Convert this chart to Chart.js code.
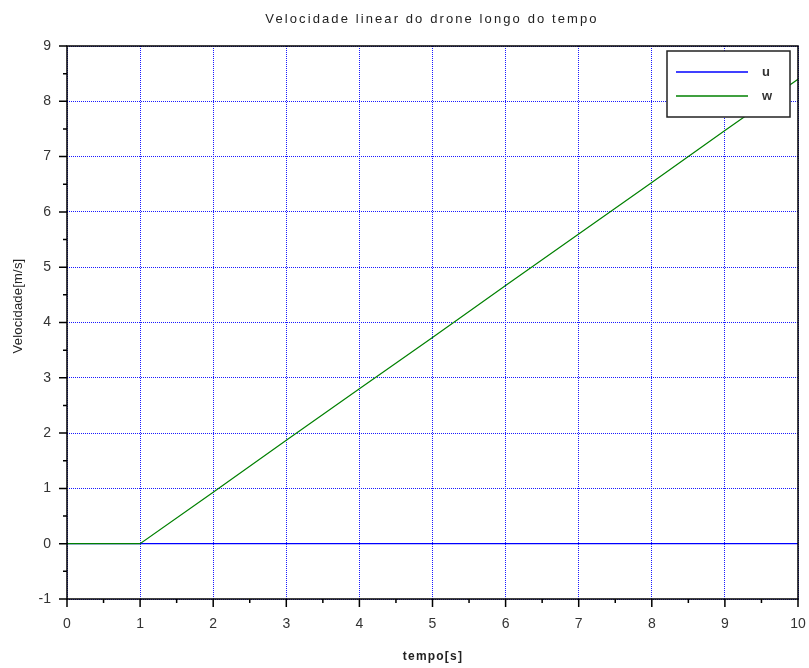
<!DOCTYPE html>
<html>
<head>
<meta charset="utf-8">
<script src="https://cdn.jsdelivr.net/npm/chart.js@4/dist/chart.umd.min.js"></script>
<style>
  html, body { margin: 0; padding: 0; background: #fff; }
  #wrap { width: 809px; height: 668px; }
</style>
</head>
<body>
<div id="wrap"><canvas id="lineChart" width="809" height="668"></canvas></div>
<script>
// time samples (s) and the two velocity series (m/s)
const tempo = [0, 1, 2, 3, 4, 5, 6, 7, 8, 9, 10];
const uValues = [0, 0, 0, 0, 0, 0, 0, 0, 0, 0, 0];
const wValues = [0, 0, 0.93, 1.87, 2.8, 3.73, 4.67, 5.6, 6.53, 7.47, 8.4];
const seriesNames = ["u", "w"];
const seriesColors = ["#0000ff", "#008000"];

const titleText = "Velocidade linear do drone longo do tempo";
const xTitle = "tempo[s]";
const yTitle = "Velocidade[m/s]";

const toPoints = (values) => tempo.map((t, i) => ({ x: t, y: values[i] }));

// frame, minor/major ticks, titles and legend box
const scilabFrame = {
  id: "scilabFrame",
  afterDraw(chart) {
    const { ctx, chartArea: a, scales } = chart;
    const xs = scales.x;
    const ys = scales.y;
    ctx.save();
    ctx.strokeStyle = "#000";
    ctx.lineWidth = 1.5;
    ctx.strokeRect(a.left, a.top, a.right - a.left, a.bottom - a.top);

    ctx.beginPath();
    for (let v = 0; v <= 10; v += 0.5) {
      const px = xs.getPixelForValue(v);
      const len = Number.isInteger(v) ? 8 : 4;
      ctx.moveTo(px, a.bottom);
      ctx.lineTo(px, a.bottom + len);
    }
    for (let v = -1; v <= 9; v += 0.5) {
      const py = ys.getPixelForValue(v);
      const len = Number.isInteger(v) ? 8 : 4;
      ctx.moveTo(a.left, py);
      ctx.lineTo(a.left - len, py);
    }
    ctx.stroke();

    ctx.fillStyle = "#222";
    ctx.textAlign = "center";
    ctx.textBaseline = "middle";
    ctx.font = "13px 'Liberation Sans', sans-serif";
    ctx.letterSpacing = "2.1px";
    ctx.fillText(titleText, 432, 19);

    ctx.font = "bold 12px 'Liberation Sans', sans-serif";
    ctx.letterSpacing = "1.2px";
    ctx.fillText(xTitle, 433, 657);
    ctx.save();
    ctx.translate(18, 306);
    ctx.rotate(-Math.PI / 2);
    ctx.font = "13px 'Liberation Sans', sans-serif";
    ctx.letterSpacing = "0.2px";
    ctx.fillText(yTitle, 0, 0);
    ctx.restore();

    // legend
    const lx = 667, ly = 51, lw = 123, lh = 66;
    ctx.letterSpacing = "0px";
    ctx.fillStyle = "#fff";
    ctx.fillRect(lx, ly, lw, lh);
    ctx.strokeStyle = "#222";
    ctx.lineWidth = 1.5;
    ctx.strokeRect(lx, ly, lw, lh);
    ctx.font = "bold 13px 'Liberation Sans', sans-serif";
    ctx.textAlign = "left";
    seriesNames.forEach((name, i) => {
      const yy = ly + 21 + i * 24;
      ctx.strokeStyle = seriesColors[i];
      ctx.lineWidth = 1.5;
      ctx.beginPath();
      ctx.moveTo(676, yy);
      ctx.lineTo(748, yy);
      ctx.stroke();
      ctx.fillStyle = "#333";
      ctx.fillText(name, 762, yy);
    });
    ctx.restore();
  },
};

const container = document.getElementById("lineChart");

new Chart(container, {
  type: "line",
  data: {
    datasets: [
      {
        label: seriesNames[0],
        data: toPoints(uValues),
        borderColor: seriesColors[0],
        borderWidth: 1.2,
        pointRadius: 0,
        order: 1,
      },
      {
        label: seriesNames[1],
        data: toPoints(wValues),
        borderColor: seriesColors[1],
        borderWidth: 1.2,
        pointRadius: 0,
        order: 0,
      },
    ],
  },
  options: {
    responsive: false,
    animation: false,
    layout: { padding: { left: 0, right: 11, top: 46, bottom: 0 } },
    plugins: {
      legend: { display: false },
      tooltip: { enabled: false },
    },
    scales: {
      x: {
        type: "linear",
        min: 0,
        max: 10,
        afterFit: (scale) => {
          scale.height = 69;
          scale.paddingLeft = 0;
          scale.paddingRight = 11;
        },
        ticks: {
          stepSize: 1,
          padding: 17,
          color: "#333",
          font: { family: "'Liberation Sans', sans-serif", size: 14 },
        },
        grid: {
          color: "#1a1aff",
          lineWidth: 1,
          drawTicks: false,
        },
        border: { display: false, dash: [1, 1] },
      },
      y: {
        min: -1,
        max: 9,
        afterFit: (scale) => { scale.width = 67; },
        ticks: {
          stepSize: 1,
          padding: 16,
          color: "#333",
          font: { family: "'Liberation Sans', sans-serif", size: 14 },
        },
        grid: {
          color: "#1a1aff",
          lineWidth: 1,
          drawTicks: false,
        },
        border: { display: false, dash: [1, 1] },
      },
    },
  },
  plugins: [scilabFrame],
});
</script>
</body>
</html>
